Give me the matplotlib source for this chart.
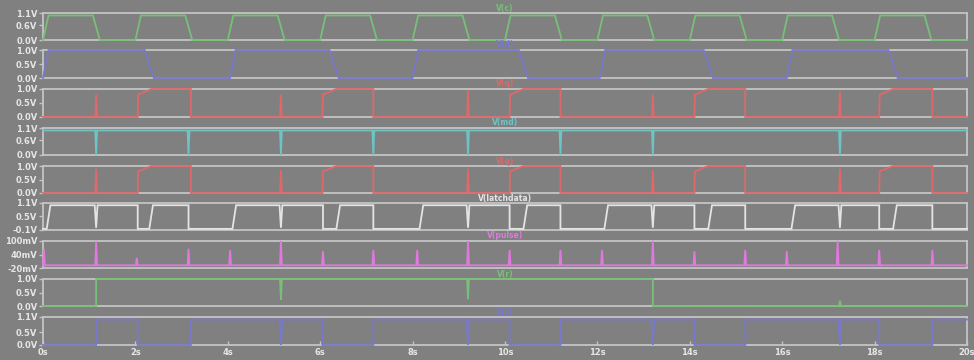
import matplotlib
matplotlib.use("Agg")
import matplotlib.pyplot as plt
import numpy as np

# ---- data (times in seconds) ----
T_END = 20.0

# V(c): clock
clk_rise = [0, 2, 4, 6, 8, 10, 12, 14, 16, 18]
clk_fall = [1.08, 3.08, 5.08, 7.08, 9.08, 11.08, 13.08, 15.08, 17.08, 19.08]

# V(d): data
d_rise = [0, 4.05, 8.0, 12.05, 16.1]
d_fall = [2.2, 6.2, 10.3, 14.3, 18.3]

# V(q): output pulses and glitches
q_rise = [2.05, 6.05, 10.1, 14.1, 18.1]
q_fall = [3.2, 7.15, 11.2, 15.2, 19.25]
q_spike_t = [1.15, 5.15, 9.2, 13.2, 17.25]
q_spike_v = [0.8, 0.8, 0.95, 0.8, 0.9]
q2_spike_v = [0.9, 0.85, 0.9, 0.85, 0.9]

# V(md): dips
md_dip_t = [1.15, 3.15, 5.15, 7.15, 9.2, 11.2, 13.2, 17.25]

# V(latchdata)
ld_fall = [2.05, 3.15, 6.06, 7.15, 10.1, 11.2, 14.1, 15.2, 18.1, 19.25]
ld_rise = [0.08, 2.3, 4.1, 6.35, 8.15, 10.4, 12.15, 14.4, 16.2, 18.4]
ld_dip_t = [1.15, 5.15, 9.2, 13.2, 17.25]

# V(pulse) in mV
pulse_base = -8
pulse_t = [0.02, 1.15, 2.03, 3.15, 4.05, 5.15, 6.06, 7.15, 8.1, 9.2,
           10.1, 11.2, 12.1, 13.2, 14.1, 15.2, 16.1, 17.2, 18.1, 19.25]
pulse_v = [65, 100, 25, 65, 60, 100, 55, 60, 60, 100,
           60, 60, 60, 100, 55, 60, 55, 100, 60, 60]

# V(r): green
r_rise = [1.15]
r_fall = [13.2]
r_spike_t = [5.15, 9.2, 17.25]
r_spike_v = [0.22, 0.25, 0.2]

# V(s): blue
s_rise = [1.15, 3.2, 7.15, 11.2, 15.2, 19.25]
s_fall = [2.05, 6.05, 10.1, 14.1, 18.1]
s_spike_t = [5.15, 9.2, 13.2, 17.25]

x_ticks = [0, 2, 4, 6, 8, 10, 12, 14, 16, 18, 20]


def edges(rises, falls, tr, tf, lo=0.0, hi=1.0, mid=None):
    ev = sorted([(t, 1) for t in rises] + [(t, 0) for t in falls])
    ts, vs = [0.0], [lo]
    for t, up in ev:
        if up and mid is not None:
            ts += [t, t + 0.01, t + tr]
            vs += [lo, mid, hi]
        elif up:
            ts += [t, t + tr]
            vs += [lo, hi]
        else:
            ts += [t, t + tf]
            vs += [hi, lo]
    ts.append(T_END)
    vs.append(vs[-1])
    return np.array(ts), np.array(vs)


def add_spikes(ts, vs, times, peaks, w=0.02):
    st, sv = list(ts), list(vs)
    for t, p in zip(times, peaks):
        base = np.interp(t, ts, vs)
        st += [t - w, t, t + w]
        sv += [base, p, base]
    order = np.argsort(st, kind="stable")
    return np.array(st)[order], np.array(sv)[order]


def const(v):
    return np.array([0.0, T_END]), np.array([v, v])


sig_c = edges(clk_rise, clk_fall, 0.12, 0.15)
sig_d = edges(d_rise, d_fall, 0.12, 0.2)
sig_q = add_spikes(*edges(q_rise, q_fall, 0.3, 0.0, mid=0.8), q_spike_t, q_spike_v)
sig_md = add_spikes(*const(1.0), md_dip_t, [0.0] * len(md_dip_t))
sig_q2 = add_spikes(*edges(q_rise, q_fall, 0.3, 0.0, mid=0.8), q_spike_t, q2_spike_v)
sig_ld = add_spikes(*edges(ld_rise, ld_fall, 0.08, 0.0, lo=-0.05),
                    ld_dip_t, [0.0] * len(ld_dip_t), w=0.03)
sig_p = add_spikes(*const(pulse_base), pulse_t, pulse_v)
sig_r = add_spikes(*edges(r_rise, r_fall, 0.0, 0.0), r_spike_t, r_spike_v)
sig_s = add_spikes(*edges(s_rise, s_fall, 0.0, 0.0), s_spike_t, [0.0] * 4, w=0.03)

panels = [
    ("V(c)", sig_c, "#78c078", (0, 1.1), [1.1, 0.6, 0.0], ["1.1V", "0.6V", "0.0V"]),
    ("V(d)", sig_d, "#7878cc", (0, 1.0), [1.0, 0.5, 0.0], ["1.0V", "0.5V", "0.0V"]),
    ("V(q)", sig_q, "#e06868", (0, 1.0), [1.0, 0.5, 0.0], ["1.0V", "0.5V", "0.0V"]),
    ("V(md)", sig_md, "#6cc4c4", (0, 1.1), [1.1, 0.6, 0.0], ["1.1V", "0.6V", "0.0V"]),
    ("V(q)", sig_q2, "#e06868", (0, 1.0), [1.0, 0.5, 0.0], ["1.0V", "0.5V", "0.0V"]),
    ("V(latchdata)", sig_ld, "#e4e4e4", (-0.1, 1.1), [1.1, 0.5, -0.1], ["1.1V", "0.5V", "-0.1V"]),
    ("V(pulse)", sig_p, "#e078e0", (-20, 100), [100, 40, -20], ["100mV", "40mV", "-20mV"]),
    ("V(r)", sig_r, "#78c078", (0, 1.0), [1.0, 0.5, 0.0], ["1.0V", "0.5V", "0.0V"]),
    ("V(s)", sig_s, "#7878cc", (0, 1.1), [1.1, 0.5, 0.0], ["1.1V", "0.5V", "0.0V"]),
]

# panel top/bottom in pixels
px_top = [13, 50, 89, 128, 166, 203, 241, 279, 317]
px_bot = [40, 78, 117, 155, 193, 230, 268, 306, 345]

W, H = 974, 360
BG = "#808080"
FRAME = "#c4c4c4"
TXT = "#e6e6e6"

fig = plt.figure(figsize=(W / 100, H / 100), dpi=100, facecolor=BG)
x0, x1 = 43, 967

for i, (name, (ts, vs), col, ylim, yt, ylab) in enumerate(panels):
    top, bot = px_top[i], px_bot[i]
    ax = fig.add_axes([x0 / W, 1 - bot / H, (x1 - x0) / W, (bot - top) / H])
    ax.set_facecolor(BG)
    ax.plot(ts, vs, color=col, lw=1.3, solid_joinstyle="miter", zorder=3,
            clip_on=False)
    ax.set_xlim(0, T_END)
    ax.set_ylim(*ylim)
    for s in ax.spines.values():
        s.set_color(FRAME)
        s.set_linewidth(1.3)
        s.set_zorder(1)
    ax.set_yticks(yt)
    ax.set_yticklabels(ylab)
    ax.tick_params(axis="y", colors=FRAME, labelcolor=TXT, length=3, width=1,
                   labelsize=6, pad=1)
    for lab in ax.get_yticklabels():
        lab.set_fontweight("bold")
    ax.set_xticks(x_ticks)
    if i == len(panels) - 1:
        ax.set_xticklabels([f"{t}s" for t in x_ticks], fontsize=6, fontweight="bold",
                           color=TXT)
        ax.tick_params(axis="x", direction="in", colors=FRAME, labelcolor=TXT,
                       length=3, width=1, pad=2)
    else:
        ax.tick_params(axis="x", length=0, labelbottom=False)
    fig.text((x0 + (x1 - x0) * 0.5) / W, 1 - (top - 5) / H, name, color=col,
             fontsize=5.5, fontweight="bold", ha="center", va="center")

fig.savefig("out.png", dpi=100, facecolor=BG)
